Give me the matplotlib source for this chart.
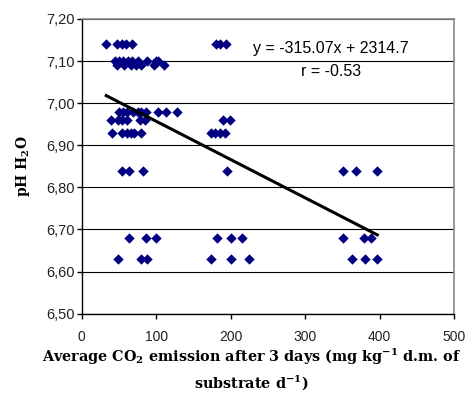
import matplotlib
matplotlib.use("Agg")
import matplotlib.pyplot as plt
import numpy as np
from matplotlib.ticker import FuncFormatter, MultipleLocator

# CO2 emission (x) and pH H2O (y)
x_vals = [33, 47, 54, 60, 67, 180, 186, 194,
          45, 50, 55, 62, 68, 76, 88, 100, 103,
          48, 57, 66, 73, 80, 97, 110,
          50, 55, 61, 69, 75, 80, 86, 103, 113, 128,
          40, 49, 54, 61, 78, 85, 190, 199,
          41, 54, 61, 66, 70, 79, 173, 179, 186, 192,
          54, 64, 82, 195, 351, 369, 397,
          64, 87, 100, 182, 200, 215, 351, 379, 388,
          49, 79, 88, 174, 200, 225, 363, 381, 397]
y_vals = [7.14] * 8 + [7.10] * 9 + [7.09] * 7 + [6.98] * 10 + [6.96] * 8 + \
         [6.93] * 10 + [6.84] * 7 + [6.68] * 9 + [6.63] * 9

trend_slope = -0.000909
trend_intercept = 7.048
eq_text = "y = -315.07x + 2314.7"
r_text = "r = -0.53"

plt.rcParams["mathtext.fontset"] = "custom"
plt.rcParams["mathtext.rm"] = "DejaVu Serif:bold"
plt.rcParams["mathtext.it"] = "DejaVu Serif:bold"
plt.rcParams["mathtext.bf"] = "DejaVu Serif:bold"
plt.rcParams["mathtext.default"] = "rm"

fig = plt.figure(figsize=(4.70, 3.99), dpi=100)
ax = fig.add_axes([0.1738, 0.2138, 0.966 - 0.1738, 0.9524 - 0.2138])

ax.set_xlim(0, 500)
ax.set_ylim(6.50, 7.20)
ax.xaxis.set_major_locator(MultipleLocator(100))
ax.yaxis.set_major_locator(MultipleLocator(0.10))
ax.yaxis.set_major_formatter(FuncFormatter(lambda v, p: f"{v:.2f}".replace(".", ",")))
ax.grid(axis="y", color="black", linewidth=0.8)
ax.set_axisbelow(True)

ax.scatter(x_vals, y_vals, marker="D", s=28, color="#000080", zorder=3, linewidths=0)

xs = np.array([min(x_vals), max(x_vals)])
ax.plot(xs, trend_intercept + trend_slope * xs, color="black", linewidth=2.2, zorder=4)

ax.text(335, 7.131, eq_text, ha="center", va="center", fontsize=11.5,
        family="Liberation Sans", zorder=5)
ax.text(335, 7.075, r_text, ha="center", va="center", fontsize=11.5,
        family="Liberation Sans", zorder=5)

for s in ["left", "bottom"]:
    ax.spines[s].set_color("black")
    ax.spines[s].set_linewidth(1.0)
for s in ["top", "right"]:
    ax.spines[s].set_color("#888888")
    ax.spines[s].set_linewidth(1.2)

ax.tick_params(axis="y", direction="out", length=3.5, width=1, labelsize=10.5, pad=1.5)
ax.tick_params(axis="x", direction="out", length=3.5, width=1, labelsize=10, pad=8)
for lab in ax.get_xticklabels() + ax.get_yticklabels():
    lab.set_family("Liberation Sans")
    lab.set_color("#222222")

ax.set_ylabel("pH H$_2$O", family="DejaVu Serif", fontweight="bold", fontsize=10, labelpad=10)
fig.text(0.535, 0.074, "Average CO$_2$ emission after 3 days (mg kg$^{-1}$ d.m. of\nsubstrate d$^{-1}$)",
         ha="center", va="center", family="DejaVu Serif", fontweight="bold", fontsize=10.4,
         linespacing=1.45)

fig.savefig("out.png", dpi=100)
